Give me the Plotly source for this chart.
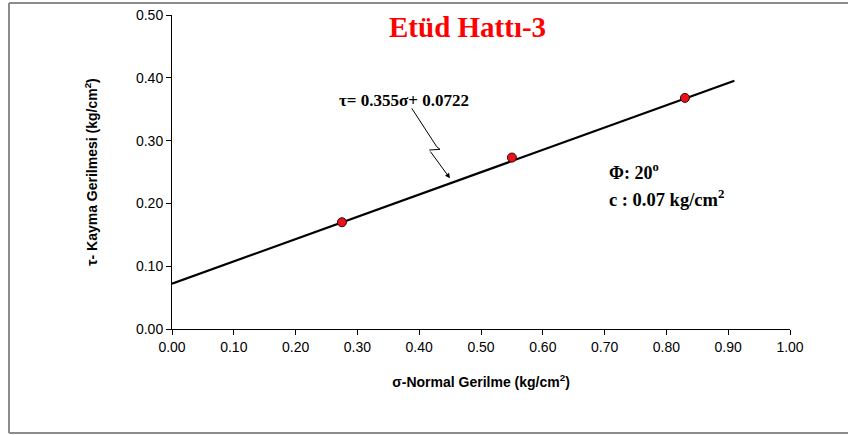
import plotly.graph_objects as go

# Data
sigma = [0.275, 0.55, 0.83]
tau = [0.170, 0.273, 0.368]
slope = 0.355
intercept = 0.0722
trend_x = [0.0, 0.91]
trend_y = [slope * x + intercept for x in trend_x]
x_ticks = [0.0, 0.1, 0.2, 0.3, 0.4, 0.5, 0.6, 0.7, 0.8, 0.9, 1.0]
y_ticks = [0.0, 0.1, 0.2, 0.3, 0.4, 0.5]

L, R, T, B = 172, 790, 15, 329  # plot area in px
W, H = R - L, B - T


def px(x):
    return (x - L) / W


def py(y):
    return (B - y) / H


fig = go.Figure()
fig.add_trace(go.Scatter(x=trend_x, y=trend_y, mode="lines",
                         line=dict(color="black", width=2.2), hoverinfo="skip"))
fig.add_trace(go.Scatter(x=sigma, y=tau, mode="markers",
                         marker=dict(color="#e8141c", size=9,
                                     line=dict(color="#3a0000", width=1))))

# callout zigzag
callout_x = [0.388, 0.4283, 0.4337, 0.4163]
callout_y = [0.3514, 0.2903, 0.2861, 0.2850]
fig.add_trace(go.Scatter(x=callout_x, y=callout_y, mode="lines",
                         line=dict(color="black", width=1), hoverinfo="skip"))
fig.add_annotation(x=0.4498, y=0.2399, ax=0.4163, ay=0.2850, xref="x", yref="y",
                   axref="x", ayref="y", text="", showarrow=True,
                   arrowhead=2, arrowsize=1, arrowwidth=1, arrowcolor="black")

serif = "Liberation Serif"
fig.add_annotation(x=px(404), y=py(100), xref="paper", yref="paper",
                   xanchor="center", yanchor="middle",
                   text="<b>τ= 0.355σ+ 0.0722</b>", showarrow=False,
                   font=dict(family=serif, size=17, color="black"))
fig.add_annotation(x=px(467), y=py(27), xref="paper", yref="paper",
                   xanchor="center", yanchor="middle",
                   text="<b>Etüd Hattı-3</b>", showarrow=False,
                   font=dict(family=serif, size=29, color="#ff0000"))
fig.add_annotation(x=px(607), y=py(171), xref="paper", yref="paper",
                   xanchor="left", yanchor="middle",
                   text="<b>Φ: 20<sup>o</sup></b>", showarrow=False,
                   font=dict(family=serif, size=18, color="black"))
fig.add_annotation(x=px(607), y=py(198), xref="paper", yref="paper",
                   xanchor="left", yanchor="middle",
                   text="<b>c : 0.07 kg/cm<sup>2</sup></b>", showarrow=False,
                   font=dict(family=serif, size=18.5, color="black"))

# outer frame (left, top, bottom edges; right edge is outside the view)
for x0, y0, x1, y1 in [(9, 3, 9, 433), (9, 3, 860, 3), (9, 433, 860, 433)]:
    fig.add_shape(type="line", xref="paper", yref="paper",
                  x0=px(x0), y0=py(y0), x1=px(x1), y1=py(y1),
                  line=dict(color="#8c8c8c", width=2), layer="below")

sans = "Liberation Sans"
fig.update_layout(
    width=848, height=435,
    margin=dict(l=L, r=848 - R, t=T, b=435 - B, autoexpand=False),
    paper_bgcolor="white", plot_bgcolor="white",
    showlegend=False,
    xaxis=dict(range=[0, 1.0], tickvals=x_ticks, ticktext=[f"{v:.2f}" for v in x_ticks],
               showgrid=False, zeroline=False, showline=True, linecolor="black", linewidth=1,
               ticks="outside", ticklen=5, tickcolor="black", automargin=False,
               tickfont=dict(family=sans, size=14, color="black"),
               title=dict(text="<b>σ-Normal Gerilme (kg/cm<sup>2</sup>)</b>", standoff=23,
                          font=dict(family=sans, size=14, color="black"))),
    yaxis=dict(range=[0, 0.5], tickvals=y_ticks, ticktext=[f"{v:.2f}" for v in y_ticks],
               showgrid=False, zeroline=False, showline=True, linecolor="black", linewidth=1,
               ticks="outside", ticklen=5, tickcolor="black", automargin=False,
               tickfont=dict(family=sans, size=14, color="black"),
               title=dict(text="<b>τ- Kayma Gerilmesi (kg/cm<sup>2</sup>)</b>", standoff=35,
                          font=dict(family=sans, size=14, color="black"))),
)

fig.write_html("out.html", config={"displayModeBar": False},
               post_script="document.body.style.margin='0';"
                           "document.body.style.overflow='hidden';"
                           "document.documentElement.style.overflow='hidden';")
